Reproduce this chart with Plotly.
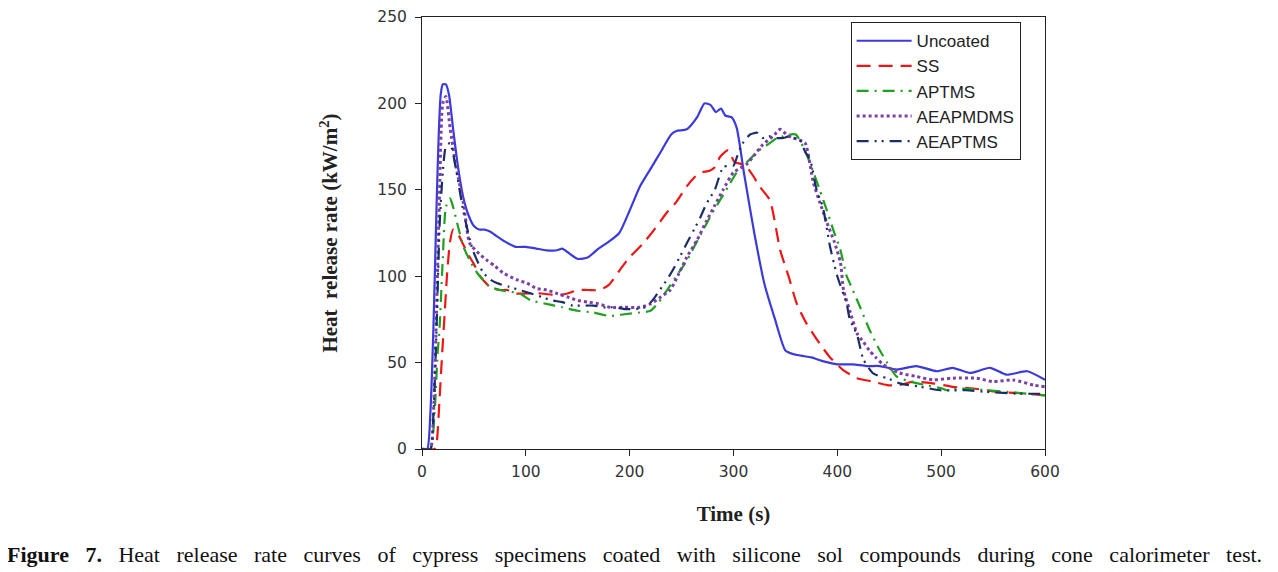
import plotly.graph_objects as go

# ---- data ----
t_uncoated = [0, 5, 8, 11, 14, 16, 18, 20, 23, 26, 30, 35, 40, 45, 50, 55, 60, 65, 70, 80, 90, 100, 110, 120, 130, 135, 140, 150, 160, 170, 180, 190, 200, 210, 220, 230, 240, 245, 255, 265, 272, 278, 283, 288, 292, 298, 303, 310, 320, 330, 340, 350, 357, 365, 375, 385, 400, 415, 428, 441, 457, 476, 496, 511, 528, 547, 563, 583, 600]
v_uncoated = [0, 0, 20, 70, 140, 180, 205, 211, 211, 205, 185, 162, 145, 135, 129, 127, 127, 126, 124, 120, 117, 117, 116, 115, 115, 116, 114, 110, 111, 116, 120, 125, 138, 152, 162, 172, 182, 184, 185, 192, 200, 199, 195, 197, 193, 192, 186, 160, 125, 95, 75, 57, 55, 54, 53, 51, 49, 49, 48, 48, 46, 48, 45, 47, 44, 47, 43, 45, 40]

t_ss = [0, 12, 14, 17, 19, 22, 24, 27, 30, 35, 40, 45, 50, 56, 65, 75, 82, 90, 101, 115, 130, 140, 150, 160, 171, 180, 191, 200, 213, 225, 236, 245, 255, 262, 268, 277, 282, 287, 292, 295, 301, 307, 313, 319, 325, 335, 345, 353, 361, 370, 383, 393, 405, 419, 434, 448, 460, 473, 492, 511, 531, 557, 583, 600]
v_ss = [0, 0, 3, 30, 51, 80, 100, 120, 127, 124, 118, 112, 107, 100, 94, 92, 92, 90, 90, 90, 89, 90, 92, 92, 92, 95, 104, 111, 119, 128, 137, 143, 152, 157, 160, 161, 163, 169, 172, 173, 166, 165, 163, 158, 152, 144, 115, 100, 84, 73, 61, 53, 46, 41, 39, 37, 37, 39, 38, 36, 35, 33, 32, 31]

t_aptms = [0, 8, 12, 15, 17, 20, 23, 27, 30, 35, 40, 47, 53, 60, 65, 75, 85, 94, 105, 120, 135, 150, 165, 180, 195, 210, 220, 228, 236, 245, 255, 263, 271, 279, 287, 295, 303, 313, 325, 335, 342, 348, 354, 360, 367, 374, 383, 390, 396, 403, 409, 412, 422, 431, 441, 450, 457, 470, 485, 501, 505, 518, 544, 565, 583, 600]
v_aptms = [0, 0, 20, 55, 71, 110, 140, 145, 140, 128, 117, 108, 102, 97, 94, 92, 91, 90, 86, 84, 82, 80, 79, 77, 78, 79, 80, 85, 92, 100, 109, 118, 127, 136, 144, 152, 160, 166, 173, 177, 180, 181, 182, 182, 175, 165, 150, 138, 127, 115, 100, 96, 82, 69, 57, 48, 42, 39, 37, 35, 34, 35, 34, 33, 32, 31]

t_aeapmdms = [0, 8, 11, 14, 17, 20, 23, 27, 33, 40, 46, 55, 63, 70, 78, 91, 101, 110, 120, 130, 140, 150, 160, 170, 181, 195, 210, 220, 230, 239, 247, 255, 265, 274, 282, 290, 300, 313, 320, 328, 338, 345, 351, 357, 363, 369, 377, 383, 390, 397, 403, 406, 412, 419, 425, 431, 437, 444, 460, 476, 492, 511, 534, 550, 569, 589, 600]
v_aeapmdms = [0, 0, 20, 80, 150, 200, 204, 186, 163, 142, 119, 113, 109, 106, 102, 98, 96, 93, 92, 90, 88, 86, 85, 84, 82, 82, 82, 84, 88, 92, 101, 111, 121, 132, 141, 150, 160, 165, 170, 176, 181, 185, 182, 180, 179, 177, 154, 143, 131, 120, 108, 92, 80, 67, 62, 57, 53, 49, 44, 42, 40, 41, 41, 39, 40, 37, 36]

t_aeaptms = [0, 8, 11, 14, 17, 20, 23, 27, 33, 40, 49, 59, 66, 72, 83, 94, 105, 115, 125, 135, 145, 155, 165, 175, 185, 195, 205, 215, 222, 229, 236, 242, 249, 255, 262, 268, 274, 282, 290, 296, 300, 305, 309, 316, 323, 328, 335, 341, 348, 354, 359, 364, 369, 374, 380, 386, 393, 400, 409, 412, 419, 425, 434, 441, 448, 460, 480, 499, 524, 544, 576, 600]
v_aeaptms = [0, 0, 20, 70, 130, 160, 175, 177, 161, 137, 115, 102, 98, 96, 94, 92, 90, 88, 86, 85, 83, 83, 83, 82, 82, 81, 81, 82, 86, 92, 98, 104, 112, 119, 127, 134, 142, 150, 163, 164, 164, 172, 177, 182, 183, 180, 181, 180, 180, 181, 180, 179, 172, 167, 150, 140, 117, 100, 84, 75, 66, 52, 44, 42, 41, 38, 36, 34, 34, 33, 32, 32]

series_names = ["Uncoated", "SS", "APTMS", "AEAPMDMS", "AEAPTMS"]
x_ticks = [0, 100, 200, 300, 400, 500, 600]
y_ticks = [0, 50, 100, 150, 200, 250]

caption_bold = "Figure 7."
caption_text = "Heat release rate curves of cypress specimens coated with silicone sol compounds during cone calorimeter test."

styles = [
    dict(color="#3b3bdc", dash="solid", width=2.2),
    dict(color="#ee1515", dash="14px,8px", width=2.2),
    dict(color="#1fa01f", dash="12px,6px,2px,6px", width=2.2),
    dict(color="#7a3fa8", dash="dot", width=3),
    dict(color="#1a2d6b", dash="12px,6px,2px,5px,2px,6px", width=2.2),
]

data_t = [t_uncoated, t_ss, t_aptms, t_aeapmdms, t_aeaptms]
data_v = [v_uncoated, v_ss, v_aptms, v_aeapmdms, v_aeaptms]

fig = go.Figure()
for name, tt, vv, st in zip(series_names, data_t, data_v, styles):
    fig.add_trace(go.Scatter(
        x=tt, y=vv, name=name, mode="lines", legendgroup=name,
        line=dict(color=st["color"], dash=st["dash"], width=st["width"], shape="spline", smoothing=0.6),
    ))

tick_font = dict(family="DejaVu Sans", size=15.5, color="#333333")
serif_bold = dict(family="Liberation Serif", size=21, color="#222222")

# page body has an 8px margin, so the figure is offset by 8px
fig.update_layout(
    width=1270, height=572,
    margin=dict(l=414, r=233, t=9, b=131, autoexpand=False),
    paper_bgcolor="white", plot_bgcolor="white",
    showlegend=True,
    legend=dict(
        x=0.688, y=0.988, xanchor="left", yanchor="top",
        bordercolor="#222222", borderwidth=1, bgcolor="white",
        font=dict(family="Liberation Sans", size=17, color="#222222"),
        tracegroupgap=0, traceorder="grouped", itemwidth=55,
    ),
    xaxis=dict(
        range=[0, 600], tickvals=x_ticks, ticks="outside", ticklen=6,
        tickcolor="#222222", showline=True, linecolor="#222222", linewidth=1,
        mirror=True, showgrid=False, zeroline=False, tickfont=tick_font,
        ticklabelstandoff=2, automargin=False,
        title=dict(text="<b>Time (s)</b>", font=serif_bold, standoff=26),
    ),
    yaxis=dict(
        range=[0, 250], tickvals=y_ticks, ticks="outside", ticklen=6,
        tickcolor="#222222", showline=True, linecolor="#222222", linewidth=1,
        mirror=True, showgrid=False, zeroline=False, tickfont=tick_font,
        ticklabelstandoff=5, automargin=False,
        title=dict(text="<b>Heat  release rate (kW/m<sup>2</sup>)</b>", font=serif_bold, standoff=33),
    ),
)

gap = "&nbsp;&nbsp; "
caption_html = "<b>" + caption_bold.replace(" ", gap) + "</b>" + gap + caption_text.replace(" ", gap)
fig.add_annotation(
    text=caption_html,
    xref="paper", yref="paper", x=(626 - 414) / 623, y=-0.245, xanchor="center", yanchor="middle",
    showarrow=False, font=dict(family="Liberation Serif", size=22, color="#111111"),
)

fig.write_html("out.html")
